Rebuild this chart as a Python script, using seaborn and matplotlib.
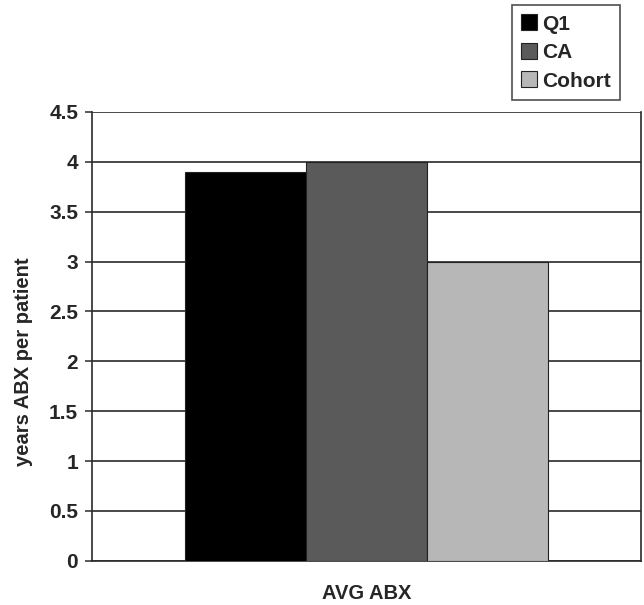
import matplotlib
matplotlib.use("Agg")
import matplotlib.pyplot as plt
from matplotlib.lines import Line2D
import seaborn as sns
import pandas as pd

# Average years of antibiotics per patient, by group
categories = ["AVG ABX"]
groups = ["Q1", "CA", "Cohort"]
values = [3.9, 4.0, 3.0]
y_ticks = [0, 0.5, 1, 1.5, 2, 2.5, 3, 3.5, 4, 4.5]
y_tick_labels = ["0", "0.5", "1", "1.5", "2", "2.5", "3", "3.5", "4", "4.5"]

colors = ["#000000", "#5a5a5a", "#b7b7b7"]

df = pd.DataFrame({
    "category": categories * len(groups),
    "group": groups,
    "value": values,
})

sns.set_theme(style="white")
plt.rcParams["font.family"] = ["Liberation Sans", "DejaVu Sans"]
plt.rcParams["font.weight"] = "bold"

fig = plt.figure(figsize=(6.44, 6.05), dpi=100)
ax = fig.add_axes([0.143, 0.073, 0.852, 0.742])

sns.barplot(data=df, x="category", y="value", hue="group", palette=colors,
            width=0.66, gap=0, edgecolor="#222222", linewidth=0.8,
            legend=False, ax=ax, zorder=3)

ax.set_xlim(-0.5, 0.5)
ax.set_ylim(0, 4.5)
ax.set_yticks(y_ticks)
ax.set_yticklabels(y_tick_labels, fontsize=15, fontweight="bold")
ax.set_xticks([])
ax.set_axisbelow(True)
ax.yaxis.grid(True, color="#2a2a2a", linewidth=1.2)
ax.tick_params(axis="y", which="major", left=True, length=5, width=1.1,
               color="#2a2a2a", pad=5)

for side in ["left", "right", "bottom"]:
    ax.spines[side].set_visible(True)
    ax.spines[side].set_color("#2a2a2a")
    ax.spines[side].set_linewidth(1.2)
ax.spines["top"].set_visible(False)

ax.set_xlabel("AVG ABX", fontsize=14.5, fontweight="bold")
ax.xaxis.set_label_coords(0.5, -0.052)
ax.set_ylabel("years ABX per patient", fontsize=14.5, fontweight="bold")
ax.yaxis.set_label_coords(-0.108, 0.443)

handles = [Line2D([], [], linestyle="", marker="s", markersize=11,
                  markerfacecolor=c, markeredgecolor="#222222", markeredgewidth=0.8)
           for c in colors]
leg = fig.legend(handles, groups, loc="upper right",
                 bbox_to_anchor=(620 / 644, 1 - 5 / 605),
                 frameon=True, fancybox=False, handlelength=0.8, handleheight=0.8,
                 handletextpad=0.2, labelspacing=0.45, borderpad=0.45,
                 borderaxespad=0,
                 prop={"size": 15, "weight": "bold"})
leg.get_frame().set_edgecolor("#222222")
leg.get_frame().set_linewidth(1.2)

fig.savefig("out.png", dpi=100, facecolor="white")
